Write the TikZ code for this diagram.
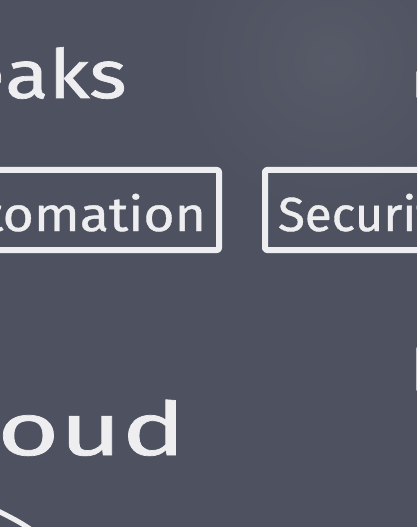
\documentclass[tikz,border=0pt]{standalone}
\usepackage{fontspec}
\newfontfamily\chalkA[FakeStretch=1.12,FakeBold=0.8]{Fira Sans}
\newfontfamily\chalkS[FakeStretch=1.03,FakeBold=0.8]{Fira Sans}
\newfontfamily\chalkB[FakeStretch=1.18,FakeBold=1]{Fira Sans}
\newfontfamily\chalkC[FakeStretch=1.45,FakeBold=1]{Fira Sans}
\definecolor{board}{RGB}{78,82,96}
\definecolor{chalkc}{RGB}{238,238,240}
\begin{document}
\begin{tikzpicture}[x=1bp,y=-1bp,
  chalkline/.style={draw=chalkc, line width=6bp, line cap=round, line join=round},
  chalktext/.style={text=chalkc, inner sep=0pt},
  chalkbox/.style={chalkline, text=chalkc, font=\chalkA\fontsize{48}{48}\selectfont,
    minimum height=80bp, inner xsep=13bp, inner ysep=0pt, text height=42bp, text depth=0pt, rounded corners=2bp}]
\useasboundingbox (0,0) rectangle (417,527);
\clip (0,0) rectangle (417,527);
\fill[board] (0,0) rectangle (417,527);
\shade[inner color=board!85!white, outer color=board, opacity=0.35] (330,60) circle (160);
% title fragment
\node (aks) [chalktext, anchor=base west, font=\chalkB\fontsize{68}{68}\selectfont] at (5,98) {aks};
\node (twe) [chalktext, anchor=base east, font=\chalkB\fontsize{68}{68}\selectfont] at (aks.base west) {Twe};
% boxes
\node (auto) [chalkbox, anchor=east] at (222,210) {Automation};
\node (secu) [chalkbox, anchor=west, font=\chalkS\fontsize{48}{48}\selectfont] at (262,210) {Security};
% bottom word
\node (oud) [chalktext, anchor=base west, font=\chalkC\fontsize{74}{74}\selectfont] at (-3,455) {oud};
\node (cl) [chalktext, anchor=base east, font=\chalkC\fontsize{74}{74}\selectfont] at (oud.base west) {Cl};
% chalk marks
\draw[chalkline, line width=5bp] (-2,511) .. controls (10,517) and (20,522) .. (30,529);
\draw[chalkline, line width=1.5bp, draw opacity=0.7] (417,72) -- (417,97);
\draw[chalkline, line width=1.5bp, draw opacity=0.7] (417,348) -- (417,390);
\end{tikzpicture}
\end{document}
